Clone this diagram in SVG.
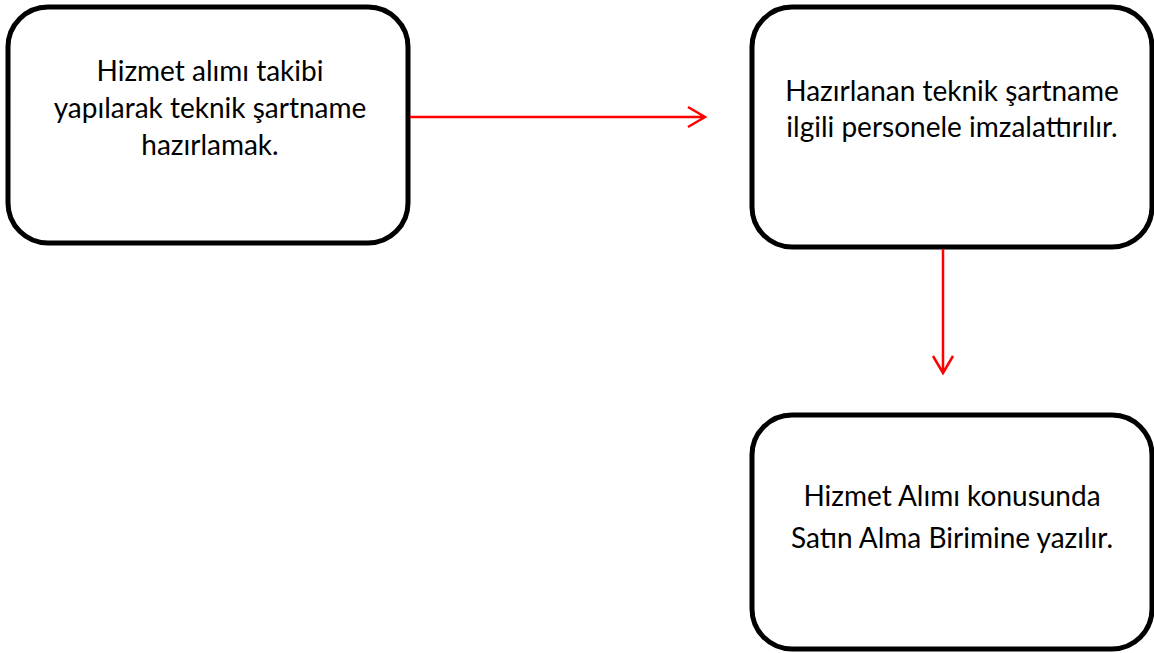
<svg xmlns="http://www.w3.org/2000/svg" width="1154" height="653" viewBox="0 0 1154 653">
  <defs>
    <style>
      .box { fill: #ffffff; stroke: #000000; stroke-width: 5; }
      .label { font-family: Lato, "Liberation Sans", sans-serif; font-size: 28px; fill: #000000; text-anchor: middle; }
      .link { fill: none; stroke: #ff0000; stroke-width: 2.5; }
    </style>
  </defs>
  <rect width="1154" height="653" fill="#ffffff"/>

  <g id="node-hazirlama">
    <rect class="box" x="8" y="7" width="400" height="236" rx="40" ry="40"/>
    <text class="label" x="210" y="81">Hizmet alımı takibi</text>
    <text class="label" x="210" y="118">yapılarak teknik şartname</text>
    <text class="label" x="210" y="155">hazırlamak.</text>
  </g>

  <g id="node-imza">
    <rect class="box" x="752" y="7" width="400" height="240" rx="40" ry="40"/>
    <text class="label" x="952" y="101">Hazırlanan teknik şartname</text>
    <text class="label" x="952" y="137">ilgili personele imzalattırılır.</text>
  </g>

  <g id="node-satinalma">
    <rect class="box" x="752" y="415" width="400" height="234" rx="40" ry="40"/>
    <text class="label" x="952" y="506">Hizmet Alımı konusunda</text>
    <text class="label" x="952" y="548">Satın Alma Birimine yazılır.</text>
  </g>

  <g id="connectors">
    <path class="link" d="M410 117 H705 M688 107 L705 117 L688 127"/>
    <path class="link" d="M943 249 V373 M933 356 L943 373 L953 356"/>
  </g>
</svg>
